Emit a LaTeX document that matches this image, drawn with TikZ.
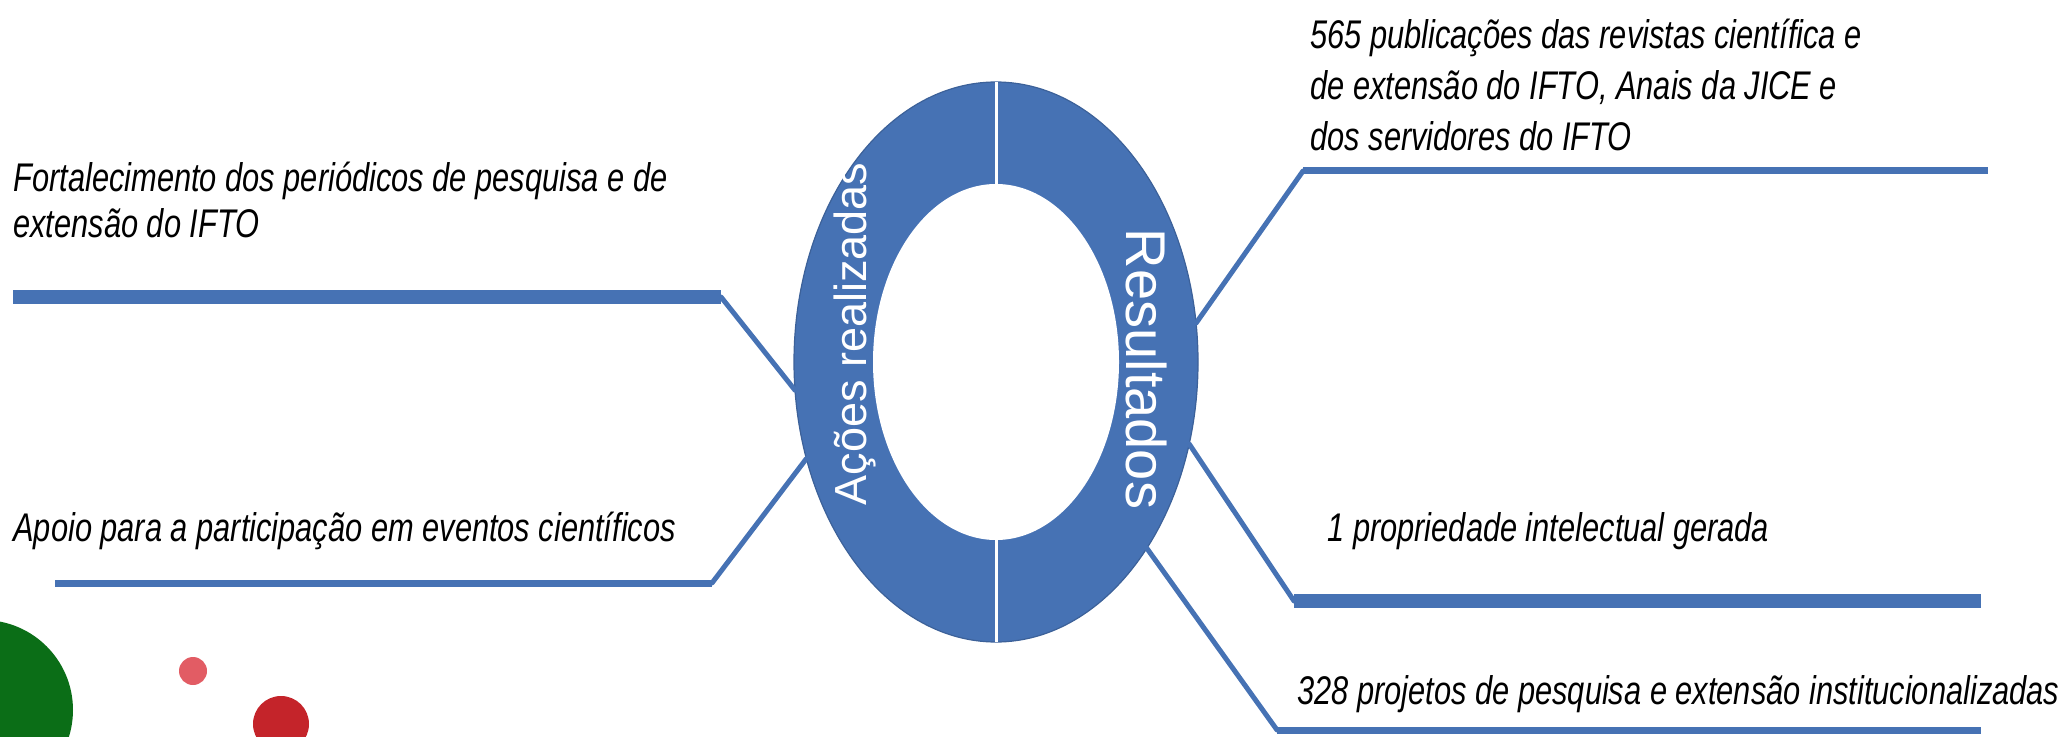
\documentclass[tikz,border=0pt]{standalone}
\usepackage{fontspec}
\setmainfont{Liberation Sans}
\newfontfamily\lblfont[FakeStretch=0.77]{Liberation Sans}
\usetikzlibrary{shapes.geometric}
\definecolor{ringblue}{RGB}{70,114,180}
\definecolor{dotgreen}{RGB}{11,110,23}
\definecolor{dotpink}{RGB}{226,92,100}
\definecolor{dotred}{RGB}{196,36,42}

\begin{document}
\begin{tikzpicture}[x=0.5pt, y=-0.5pt,
    lbl/.style={inner sep=0pt, anchor=base west, align=left, font=\lblfont\itshape\fontsize{20}{23}\selectfont},
    leg/.style={draw=ringblue, line width=2.5pt, line cap=round},
    widebar/.style={draw=ringblue, line width=7pt},
    thinbar/.style={draw=ringblue, line width=3.5pt}
]
\useasboundingbox (0,0) rectangle (2064,737);
\clip (0,0) rectangle (2064,737);

\fill[dotgreen] (-17,710) circle (45pt);
\fill[dotpink] (193,671) circle (7pt);
\fill[dotred] (281,724) circle (14pt);

\node[ellipse, fill=ringblue, draw=ringblue!85!black, line width=0.6pt, minimum width=202pt, minimum height=280pt, inner sep=0pt, outer sep=0pt] (ring) at (996,362) {};
\node[ellipse, fill=white, minimum width=123pt, minimum height=178pt, inner sep=0pt] (hole) at (996,362) {};
\draw[white, line width=1.5pt] (ring.north) -- (ring.south);

\node[rotate=90, text=white, font=\fontsize{22.5}{22.5}\selectfont] (acoes) at (855,334) {Ações realizadas};
\node[rotate=-90, text=white, font=\fontsize{28}{28}\selectfont] (result) at (1146,369) {Resultados};

\node[lbl] (fort) at (13,238) {Fortalecimento dos periódicos de pesquisa e de\\extensão do IFTO};
\node[lbl] (apoio) at (13,541) {Apoio para a participação em eventos científicos};
\node[lbl] (pub) at (1310,151) {565 publicações das revistas científica e\\[2.5pt]de extensão do IFTO, Anais da JICE e\\[2.5pt]dos servidores do IFTO};
\node[lbl] (prop) at (1327,541) {1 propriedade intelectual gerada};
\node[lbl] (proj) at (1297,704) {328 projetos de pesquisa e extensão institucionalizadas};

\coordinate (fortA) at (13,297);
\coordinate (fortB) at (721,297);
\coordinate (apoioA) at (55,583);
\coordinate (apoioB) at (712,583);
\coordinate (pubA) at (1303,171);
\coordinate (pubB) at (1988,171);
\coordinate (propA) at (1294,601);
\coordinate (propB) at (1981,601);
\coordinate (projA) at (1277,730);
\coordinate (projB) at (1981,730);

\draw[widebar] (fortA) -- (fortB);
\draw[leg] (fortB) -- (ring.188);
\draw[thinbar] (apoioA) -- (apoioB);
\draw[leg] (apoioB) -- (ring.207);
\draw[thinbar] (pubA) -- (pubB);
\draw[leg] (pubA) -- (ring.11);
\draw[widebar] (propA) -- (propB);
\draw[leg] (ring.-23) -- (propA);
\draw[thinbar] (projA) -- (projB);
\draw[leg] (ring.-51) -- (projA);

\end{tikzpicture}
\end{document}
